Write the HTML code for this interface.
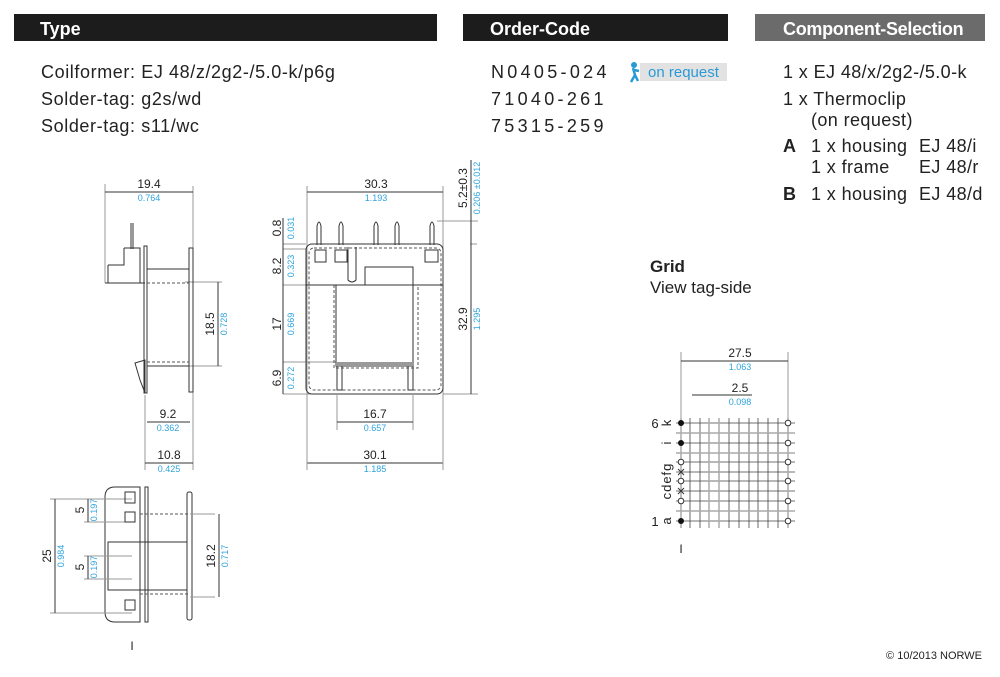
<!DOCTYPE html>
<html><head><meta charset="utf-8"><style>
body{margin:0;background:#fff;}
svg{display:block;font-family:"Liberation Sans",sans-serif;}
.k{fill:#222}.b{fill:#2ea3dc}
.l{stroke:#333;stroke-width:1;fill:none}
.g{stroke:#999;stroke-width:1;fill:none}
.d{stroke:#555;stroke-width:1;fill:none;stroke-dasharray:3 2}
</style></head><body>
<svg width="1000" height="677" viewBox="0 0 1000 677" xmlns="http://www.w3.org/2000/svg">
<!-- headers -->
<rect x="14" y="14" width="423" height="27" fill="#1c1c1c"/>
<rect x="463" y="14" width="265" height="27" fill="#1c1c1c"/>
<rect x="755" y="14" width="230" height="27" fill="#6b6b6b"/>
<text x="40" y="35" fill="#fff" font-size="18" font-weight="bold">Type</text>
<text x="490" y="35" fill="#fff" font-size="18" font-weight="bold">Order-Code</text>
<text x="783" y="35" fill="#fff" font-size="18" font-weight="bold" letter-spacing="-0.3">Component-Selection</text>
<g font-size="18" class="k">
<g letter-spacing="0.6">
<text x="41" y="78">Coilformer: EJ 48/z/2g2-/5.0-k/p6g</text>
<text x="41" y="105">Solder-tag: g2s/wd</text>
<text x="41" y="132">Solder-tag: s11/wc</text>
</g>
<text x="491" y="78" letter-spacing="3.3">N0405-024</text>
<text x="491" y="105" letter-spacing="3.3">71040-261</text>
<text x="491" y="132" letter-spacing="3.3">75315-259</text>
<g letter-spacing="0.4">
<text x="783" y="78">1 x EJ 48/x/2g2-/5.0-k</text>
<text x="783" y="105">1 x Thermoclip</text>
<text x="811" y="126">(on request)</text>
<text x="783" y="152" font-weight="bold">A</text>
<text x="811" y="152">1 x housing</text><text x="919" y="152">EJ 48/i</text>
<text x="811" y="173">1 x frame</text><text x="919" y="173">EJ 48/r</text>
<text x="783" y="200" font-weight="bold">B</text>
<text x="811" y="200">1 x housing</text><text x="919" y="200">EJ 48/d</text>
</g>
</g>
<rect x="640" y="63" width="87" height="18" fill="#e2e2e2"/>
<circle cx="634" cy="65" r="3" fill="#2a9ad6"/>
<path d="M633 68 L635 75 L631 82 M635 75 L638 81 M634 70 L639 71" stroke="#2a9ad6" stroke-width="2.5" fill="none"/>
<text x="648" y="77" font-size="15" fill="#2a9ad6">on request</text>

<!-- side view -->
<g>
<path class="g" d="M105 184V283M193 186V470M145 395V470M222 282H185M222 366H185M337 395V430M413 395V430"/>
<path class="l" d="M105 192H193M147 422H190M145 463H193M218 282V366M337 422H413M307 463H443"/>
<text x="149" y="188" font-size="12" class="k" text-anchor="middle">19.4</text>
<text x="149" y="201" font-size="9" class="b" text-anchor="middle">0.764</text>
<path class="l" d="M131 223V249M133 223V249M124 248H140V283M108 265H124V248M108 265V283M105 283H145"/>
<rect x="144" y="246" width="3" height="147" class="l"/>
<rect x="189" y="248" width="4" height="144" class="l"/>
<path class="l" d="M147 269H189M147 366H189M135 363L145 360V393L140 380Z"/>
<path class="d" d="M147 283H189M147 362H189"/>
<text transform="translate(214 324) rotate(-90)" font-size="12" class="k" text-anchor="middle">18.5</text>
<text transform="translate(227 324) rotate(-90)" font-size="9" class="b" text-anchor="middle">0.728</text>
<text x="168" y="418" font-size="12" class="k" text-anchor="middle">9.2</text>
<text x="168" y="431" font-size="9" class="b" text-anchor="middle">0.362</text>
<text x="169" y="459" font-size="12" class="k" text-anchor="middle">10.8</text>
<text x="169" y="472" font-size="9" class="b" text-anchor="middle">0.425</text>
</g>

<!-- front view -->
<g>
<path class="g" d="M307 186V470M443 186V470M437 221H478M470 244H477M443 394H478M283 244H306M283 249H306M283 285H306M283 362H336M283 394H336"/>
<path class="l" d="M307 192H443M471 160V244M471 244V394M283 218V394"/>
<rect x="306" y="244" width="137" height="150" rx="6" class="l"/>
<rect x="309" y="248" width="132" height="142" rx="5" class="d"/>
<path class="l" d="M306 285H443"/>
<g class="l">
<path d="M317 245V226Q319 218 321 226V245M339 245V226Q341 218 343 226V245M374 245V226Q376 218 378 226V245M395 245V226Q397 218 399 226V245M430 245V226Q432 218 434 226V245"/>
<rect x="315" y="250" width="11" height="12"/><rect x="335" y="250" width="12" height="12"/><rect x="425" y="250" width="13" height="12"/>
<path d="M348 247V280Q352 284 356 280V247"/>
<rect x="365" y="267" width="48" height="18"/>
<path d="M336 285V366H413V285M337 366V390H342V366M408 366V390H413V366"/>
</g>
<rect x="336" y="362" width="78" height="4" fill="#999"/>
<path class="d" d="M334 285V368H418V285"/>
<text x="376" y="188" font-size="12" class="k" text-anchor="middle">30.3</text>
<text x="376" y="201" font-size="9" class="b" text-anchor="middle">1.193</text>
<text transform="translate(467 188) rotate(-90)" font-size="12" class="k" text-anchor="middle">5.2±0.3</text>
<text transform="translate(480 188) rotate(-90)" font-size="9" class="b" text-anchor="middle">0.206 ±0.012</text>
<text transform="translate(467 319) rotate(-90)" font-size="12" class="k" text-anchor="middle">32.9</text>
<text transform="translate(480 319) rotate(-90)" font-size="9" class="b" text-anchor="middle">1.295</text>
<text transform="translate(281 228) rotate(-90)" font-size="12" class="k" text-anchor="middle">0.8</text>
<text transform="translate(294 228) rotate(-90)" font-size="9" class="b" text-anchor="middle">0.031</text>
<text transform="translate(281 266) rotate(-90)" font-size="12" class="k" text-anchor="middle">8.2</text>
<text transform="translate(294 266) rotate(-90)" font-size="9" class="b" text-anchor="middle">0.323</text>
<text transform="translate(281 324) rotate(-90)" font-size="12" class="k" text-anchor="middle">17</text>
<text transform="translate(294 324) rotate(-90)" font-size="9" class="b" text-anchor="middle">0.669</text>
<text transform="translate(281 378) rotate(-90)" font-size="12" class="k" text-anchor="middle">6.9</text>
<text transform="translate(294 378) rotate(-90)" font-size="9" class="b" text-anchor="middle">0.272</text>
<text x="375" y="418" font-size="12" class="k" text-anchor="middle">16.7</text>
<text x="375" y="431" font-size="9" class="b" text-anchor="middle">0.657</text>
<text x="375" y="459" font-size="12" class="k" text-anchor="middle">30.1</text>
<text x="375" y="472" font-size="9" class="b" text-anchor="middle">1.185</text>
</g>

<!-- bottom view -->
<g>
<path class="l" d="M115 487H140V622H115Q105 622 105 612V497Q105 487 115 487Z"/>
<rect x="145" y="487" width="3" height="135" class="l"/>
<rect x="187" y="492" width="5" height="128" rx="2" class="l"/>
<path class="l" d="M148 542H187M148 590H187M108 542H148V590H108Z"/>
<path class="d" d="M140 514H189M140 594H189"/>
<path class="g" d="M50 499H132M50 613H132M84 522H132M84 556H132M84 579H132M215 514H190M215 597H190"/>
<path class="l" d="M55 499V613M88 499V522M88 556V579M219 514V597"/>
<g class="l"><path d="M125 492H135V503H125ZM125 512H135V522H125ZM125 600H135V610H125Z"/></g>
<text transform="translate(51 556) rotate(-90)" font-size="12" class="k" text-anchor="middle">25</text>
<text transform="translate(64 556) rotate(-90)" font-size="9" class="b" text-anchor="middle">0.984</text>
<text transform="translate(84 510) rotate(-90)" font-size="12" class="k" text-anchor="middle">5</text>
<text transform="translate(97 510) rotate(-90)" font-size="9" class="b" text-anchor="middle">0.197</text>
<text transform="translate(84 567) rotate(-90)" font-size="12" class="k" text-anchor="middle">5</text>
<text transform="translate(97 567) rotate(-90)" font-size="9" class="b" text-anchor="middle">0.197</text>
<text transform="translate(215 556) rotate(-90)" font-size="12" class="k" text-anchor="middle">18.2</text>
<text transform="translate(228 556) rotate(-90)" font-size="9" class="b" text-anchor="middle">0.717</text>
<text x="132" y="650" font-size="12" class="k" text-anchor="middle">I</text>
</g>

<!-- grid -->
<text x="650" y="272" font-size="17" font-weight="bold" class="k">Grid</text>
<text x="650" y="293" font-size="17" class="k">View tag-side</text>
<g>
<path class="g" d="M681 352V528M788 352V423"/>
<path class="l" d="M681 361H788M692 395H752"/>
<text x="740" y="357" font-size="12" class="k" text-anchor="middle">27.5</text>
<text x="740" y="370" font-size="9" class="b" text-anchor="middle">1.063</text>
<text x="740" y="392" font-size="12" class="k" text-anchor="middle">2.5</text>
<text x="740" y="405" font-size="9" class="b" text-anchor="middle">0.098</text>
<g stroke="#444" stroke-width="0.8">
<path d="M690 418V528M700 418V528M729 418V528M739 418V528M749 418V528M758 418V528M768 418V528M778 418V528"/>
<path d="M676 423H795M676 443H795M676 462H795M676 472H795M676 481H795M676 491H795M676 501H795M676 521H795"/>
</g>
<g stroke="#aaa" stroke-width="1.5">
<path d="M681 418V528M709 418V528M719 418V528M788 418V528"/>
<path d="M676 433H795M676 453H795M676 511H795"/>
</g>
<g fill="#111"><circle cx="681" cy="423" r="3"/><circle cx="681" cy="443" r="3"/><circle cx="681" cy="521" r="3"/></g>
<g fill="#fff" stroke="#333"><circle cx="681" cy="462" r="2.8"/><circle cx="681" cy="481" r="2.8"/><circle cx="681" cy="501" r="2.8"/>
<circle cx="788" cy="423" r="2.8"/><circle cx="788" cy="443" r="2.8"/><circle cx="788" cy="462" r="2.8"/><circle cx="788" cy="481" r="2.8"/><circle cx="788" cy="501" r="2.8"/><circle cx="788" cy="521" r="2.8"/></g>
<path stroke="#333" d="M678 469L684 475M684 469L678 475M678 488L684 494M684 488L678 494"/>
<text x="655" y="428" font-size="13" class="k" text-anchor="middle">6</text>
<text x="655" y="526" font-size="13" class="k" text-anchor="middle">1</text>
<text transform="translate(671 423) rotate(-90)" font-size="13" class="k" text-anchor="middle">k</text>
<text transform="translate(671 443) rotate(-90)" font-size="13" class="k" text-anchor="middle">i</text>
<text transform="translate(671 481) rotate(-90)" font-size="13" class="k" text-anchor="middle" letter-spacing="1">cdefg</text>
<text transform="translate(671 521) rotate(-90)" font-size="13" class="k" text-anchor="middle">a</text>
<text x="681" y="553" font-size="12" class="k" text-anchor="middle">I</text>
</g>
<text x="982" y="659" font-size="11" class="k" text-anchor="end">© 10/2013 NORWE</text>
</svg>
</body></html>
